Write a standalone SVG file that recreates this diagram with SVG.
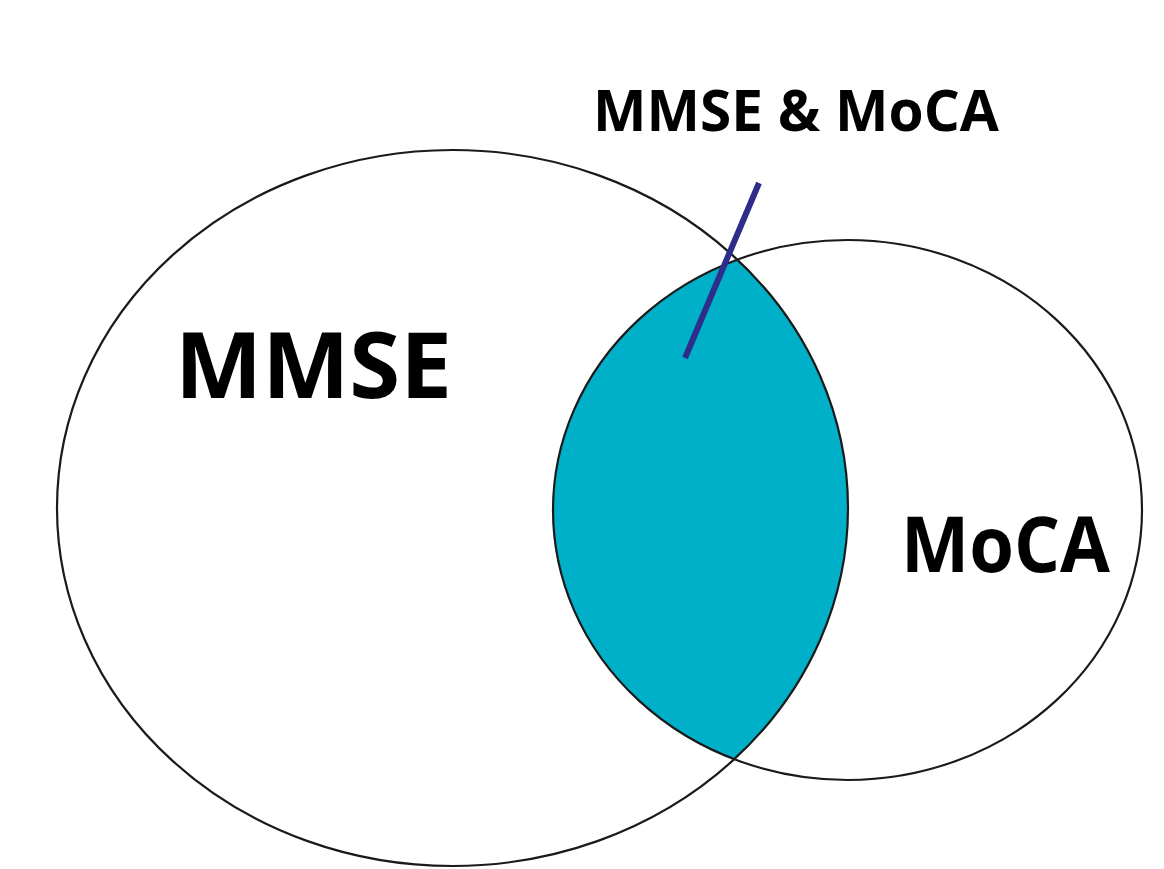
<svg xmlns="http://www.w3.org/2000/svg" width="1164" height="869" viewBox="0 0 1164 869">
  <style>
    .set { fill: none; stroke: #1a1a1a; stroke-width: 2.2; }
    .lbl { font-family: "Open Sans", "Liberation Sans", sans-serif; font-weight: 700; fill: #000; }
    .leader { stroke: #2e2d8c; stroke-width: 6; stroke-linecap: butt; }
  </style>
  <defs>
    <clipPath id="clipBig">
      <ellipse cx="452.5" cy="508" rx="395.5" ry="358"/>
    </clipPath>
  </defs>
  <rect width="1164" height="869" fill="#ffffff"/>
  <g id="overlap">
    <ellipse cx="847.5" cy="510" rx="294.5" ry="270" fill="#00b0c8" clip-path="url(#clipBig)"/>
  </g>
  <g id="mmse">
    <ellipse class="set" cx="452.5" cy="508" rx="395.5" ry="358"/>
    <text class="lbl" x="175" y="398" font-size="92" textLength="277" lengthAdjust="spacingAndGlyphs">MMSE</text>
  </g>
  <g id="moca">
    <ellipse class="set" cx="847.5" cy="510" rx="294.5" ry="270"/>
    <text class="lbl" x="901" y="572" font-size="77" textLength="209" lengthAdjust="spacingAndGlyphs">MoCA</text>
  </g>
  <g id="overlap-label">
    <text class="lbl" x="593" y="131" font-size="57" textLength="406" lengthAdjust="spacingAndGlyphs">MMSE &amp; MoCA</text>
  </g>
  <g id="connectors">
    <line class="leader" x1="759" y1="183" x2="685" y2="358"/>
  </g>
</svg>
